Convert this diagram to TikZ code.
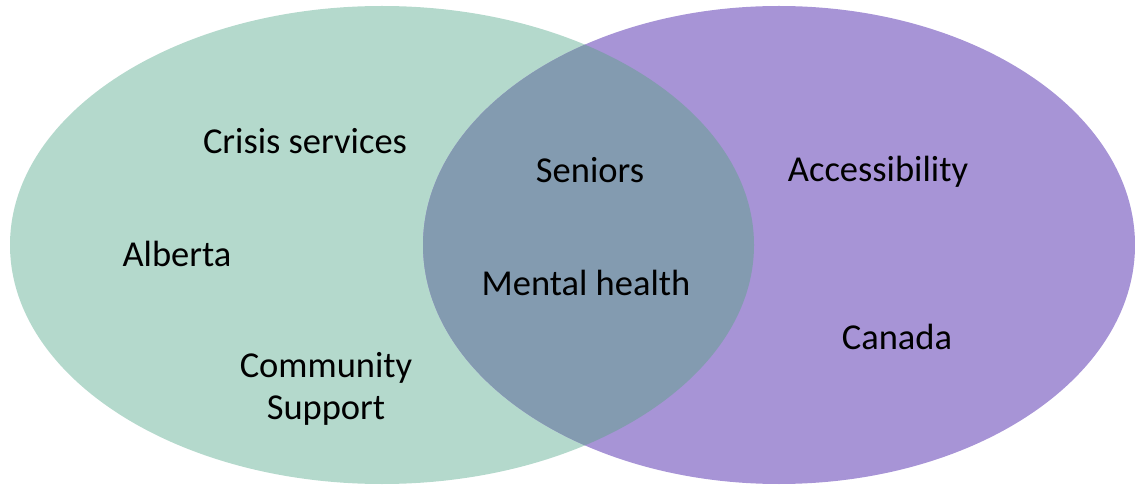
\documentclass[tikz,border=0pt]{standalone}
\usepackage{fontspec}
\setmainfont{Carlito}
\definecolor{myGreen}{RGB}{180,217,204}
\definecolor{myPurple}{RGB}{167,148,214}
\definecolor{myOverlap}{RGB}{131,155,176}
\tikzset{label/.style={font=\fontsize{36.5}{42}\selectfont,align=center,anchor=base,inner sep=0pt}}

\begin{document}
\begin{tikzpicture}[x=1pt,y=-1pt]
		\useasboundingbox (0,0) rectangle (1135,486);
		\begin{scope}
			\fill[myGreen] (382,245) ellipse [x radius=372,y radius=239];
			\fill[myPurple] (779,245) ellipse [x radius=356,y radius=239];
			\begin{scope}
				\clip (382,245) ellipse [x radius=372,y radius=239];
				\fill[myOverlap] (779,245) ellipse [x radius=356,y radius=239];
			\end{scope}
		\end{scope}
		
		\node[label] (crisis) at (305,154) {Crisis services};
		\node[label] (alberta) at (177,267) {Alberta};
		\node[label] (community) at (326,419) {Community\\Support};
		\node[label] (seniors) at (590,183) {Seniors};
		\node[label] (mental) at (586,295) {Mental health};
		\node[label] (access) at (878,182) {Accessibility};
		\node[label] (canada) at (897,349) {Canada};
	\end{tikzpicture}
\end{document}
